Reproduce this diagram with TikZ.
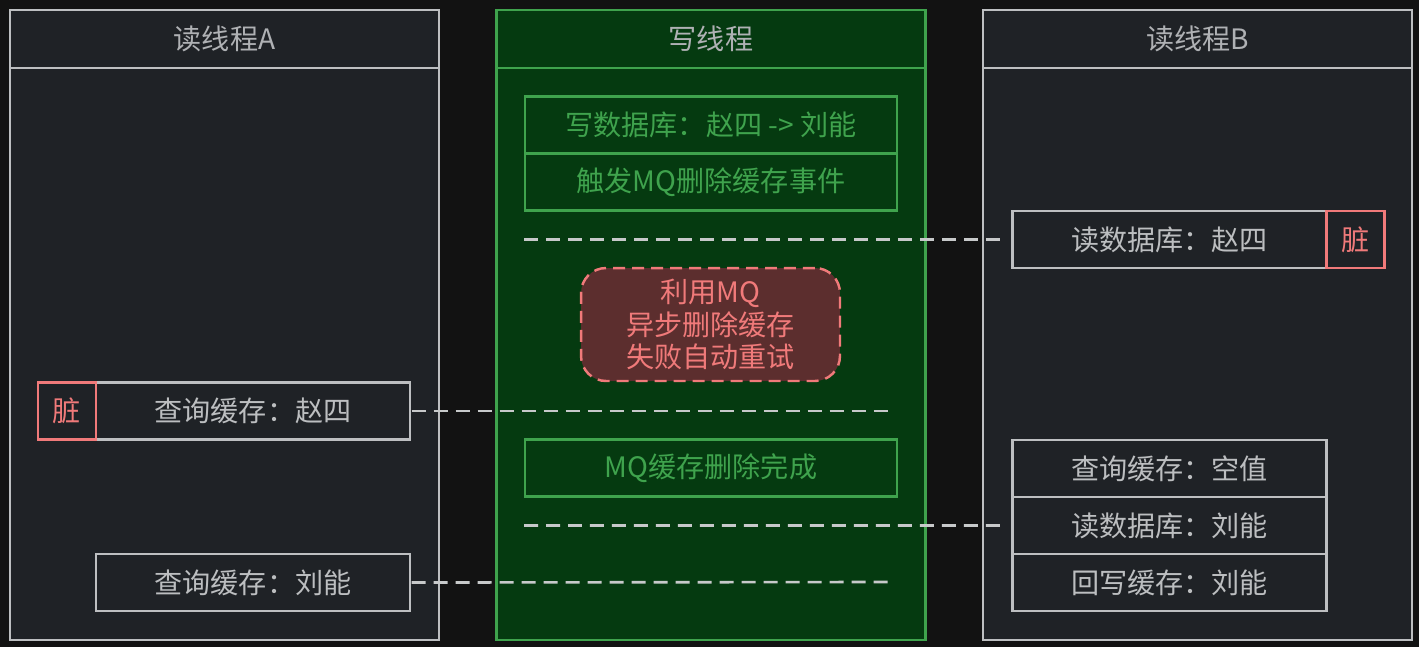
\documentclass[tikz,border=0pt]{standalone}
\usepackage{fontspec}
\setmainfont{Noto Sans CJK SC}
\usetikzlibrary{positioning, calc}

\definecolor{fondo}{HTML}{121212}
\definecolor{panelgris}{HTML}{1F2226}
\definecolor{bordegris}{HTML}{BDBFC1}
\definecolor{textogris}{HTML}{BCBEC0}
\definecolor{panelverde}{HTML}{053A10}
\definecolor{bordeverde}{HTML}{3FA34D}
\definecolor{rojo}{HTML}{F07A7A}
\definecolor{notarojo}{HTML}{5C2E2E}

\begin{document}
\begin{tikzpicture}[
        x=0.02cm, y=-0.02cm,
        every node/.style={font=\fontsize{16}{18.7}\selectfont, inner sep=0pt, outer sep=0pt},
        hilo/.style={
            rectangle,
            minimum width=8.58cm,
            minimum height=12.6cm,
            line width=1.4pt
        },
        cabecera/.style={
            rectangle,
            minimum width=8.58cm,
            minimum height=1.16cm,
            line width=1.4pt,
            text=textogris!120
        },
        paso/.style={
            rectangle,
            minimum width=6.28cm,
            minimum height=1.14cm,
            line width=1.4pt,
            draw=bordegris,
            text=textogris
        },
        pasoverde/.style={
            rectangle,
            minimum width=7.44cm,
            minimum height=1.14cm,
            line width=1.4pt,
            draw=bordeverde,
            text=bordeverde
        },
        sucio/.style={
            rectangle,
            minimum width=1.16cm,
            minimum height=1.14cm,
            line width=1.4pt,
            draw=rojo,
            text=rojo
        },
        nota/.style={
            rectangle,
            rounded corners=0.5cm,
            minimum width=5.18cm,
            minimum height=2.26cm,
            align=center,
            line width=1.4pt,
            draw=rojo,
            dash pattern=on 0.24cm off 0.14cm,
            fill=notarojo,
            text=rojo
        },
        linea/.style={line width=1.5pt, draw=bordegris!85, dash pattern=on 0.28cm off 0.16cm}
    ]
        \fill[fondo] (0,0) rectangle (1419,647);

        % columnas
        \node[hilo, fill=panelgris, draw=bordegris] (hiloA) at (224.5,325) {};
        \node[cabecera, draw=bordegris, anchor=north] (tituloA) at (hiloA.north) {读线程A};

        \node[hilo, fill=panelverde, draw=bordeverde] (hiloW) at (711,325) {};
        \node[cabecera, draw=bordeverde, anchor=north] (tituloW) at (hiloW.north) {写线程};

        \node[hilo, fill=panelgris, draw=bordegris] (hiloB) at (1197.5,325) {};
        \node[cabecera, draw=bordegris, anchor=north] (tituloB) at (hiloB.north) {读线程B};

        % hilo de escritura
        \node[pasoverde] (escribir) at (711,125) {写数据库：赵四 -> 刘能};
        \node[pasoverde, below=0pt of escribir] (disparar) {触发MQ删除缓存事件};
        \node[nota] (mq) at (710.5,324.5) {利用MQ\\异步删除缓存\\失败自动重试};
        \node[pasoverde] (completo) at (711,468) {MQ缓存删除完成};

        % hilo B
        \node[paso] (leerB) at (1169.5,239.5) {读数据库：赵四};
        \node[sucio, right=0pt of leerB] (sucioB) {脏};
        \node[paso] (vacioB) at (1169.5,468.5) {查询缓存：空值};
        \node[paso, below=0pt of vacioB] (leerB2) {读数据库：刘能};
        \node[paso, below=0pt of leerB2] (reescribirB) {回写缓存：刘能};

        % hilo A
        \node[paso] (consultaA) at (253,411) {查询缓存：赵四};
        \node[sucio, left=0pt of consultaA] (sucioA) {脏};
        \node[paso] (consultaA2) at (253,582.5) {查询缓存：刘能};

        \coordinate (finA) at (888,411);
        \coordinate (finA2) at (888,582);
        \coordinate (iniB) at (524,239.5);
        \coordinate (iniB2) at (524,525.5);

        \draw[linea, shorten >=5pt] (iniB) -- (leerB.west);
        \draw[linea, shorten <=1pt] (consultaA.east) -- (finA);
        \draw[linea, shorten >=5pt] (iniB2) -- (leerB2.west);
        \draw[linea, shorten <=1pt] (consultaA2.east) -- (finA2);
    \end{tikzpicture}
\end{document}
